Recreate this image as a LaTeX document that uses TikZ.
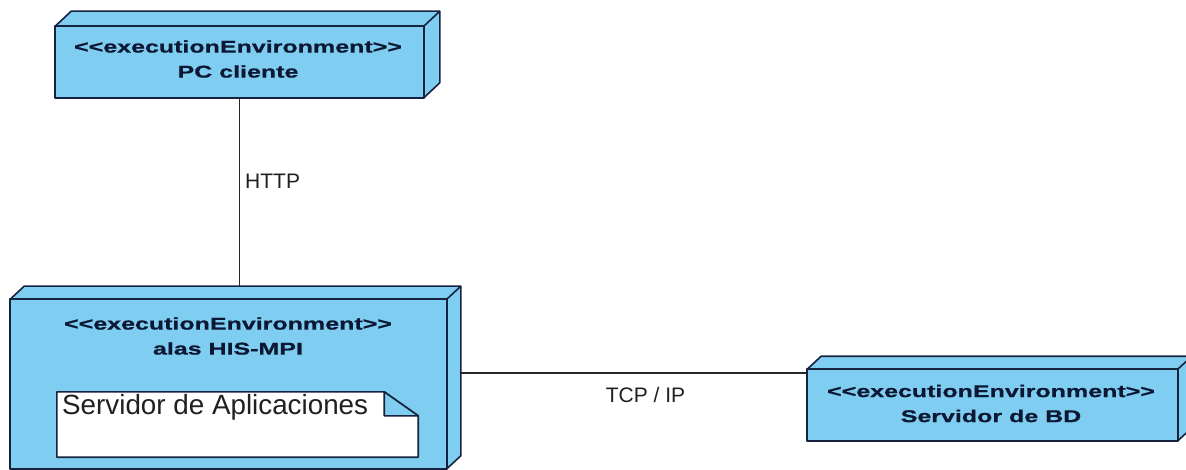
\documentclass[tikz,border=0pt]{standalone}
\usepackage{fontspec}
\setmainfont{Liberation Sans}
\newfontfamily\stereofont[FakeStretch=1.47,FakeBold=0.8]{Liberation Sans Bold}
\usetikzlibrary{calc}
\definecolor{nodefill}{HTML}{7FCDF0}
\definecolor{nodeedge}{HTML}{16223E}
\definecolor{nodetext}{HTML}{0C1833}
\definecolor{labeltext}{HTML}{202020}
\tikzset{
  face/.style={fill=nodefill, draw=nodeedge, line width=1.6pt, line join=round},
  frontface/.style={face, rectangle, inner sep=0pt},
  stereo/.style={font=\stereofont\fontsize{17}{25}\selectfont, text=nodetext, align=center, inner sep=0pt},
  conn/.style={draw=black!85, line width=1.4pt},
  connlabel/.style={font=\fontsize{21}{24}\selectfont, text=labeltext, inner sep=0pt},
  notetext/.style={font=\fontsize{27.8}{31}\selectfont, text=labeltext, inner sep=0pt},
}
% top and side faces of a deployment node, drawn behind its front face
\newcommand\depthfaces[3]{%
  \filldraw[face] (#1.north west) -- ++(#2,#3) -- ($(#1.north east)+(#2,#3)$)
    -- ($(#1.south east)+(#2,#3)$) -- (#1.south east) -- (#1.north east) -- cycle;
  \draw[face, fill=none] (#1.north east) -- ++(#2,#3);
}
\begin{document}
\begin{tikzpicture}[x=1pt,y=-1pt]
\useasboundingbox (0,0) rectangle (1186,470);

% execution environments (front faces)
\node[frontface, minimum width=367pt, minimum height=70pt] (pc) at (239.5,62) {};
\node[frontface, minimum width=435pt, minimum height=168pt] (alas) at (228.5,384) {};
\node[frontface, minimum width=369pt, minimum height=70pt] (bd) at (992.5,405) {};

\depthfaces{pc}{16}{-15}
\depthfaces{alas}{14}{-13}
\depthfaces{bd}{14}{-13}
\draw[face] (pc.north west) rectangle (pc.south east);
\draw[face] (alas.north west) rectangle (alas.south east);
\draw[face] (bd.north west) rectangle (bd.south east);

% names
\node[stereo] (pcname) at (238,59) {<<executionEnvironment>>\\PC cliente};
\node[stereo] (alasname) at (228,336) {<<executionEnvironment>>\\alas HIS-MPI};
\node[stereo] (bdname) at (991,403.5) {<<executionEnvironment>>\\Servidor de BD};

% deployed component (note with folded corner)
\node[rectangle, inner sep=0pt, minimum width=361pt, minimum height=65pt] (srv) at (237.5,424.5) {};
\coordinate (fold) at ($(srv.north east)+(-34,0)$);
\coordinate (foldcorner) at ($(srv.north east)+(0,24)$);
\filldraw[fill=white, draw=nodeedge, line width=1.6pt, line join=round]
  (srv.north west) -- (fold) -- (foldcorner) -- (srv.south east) -- (srv.south west) -- cycle;
\filldraw[fill=nodefill, draw=nodeedge, line width=1.6pt, line join=round]
  (fold) -- (fold |- foldcorner) -- (foldcorner) -- cycle;
\node[notetext, anchor=west] (srvtext) at (62,407.5) {Servidor de Aplicaciones};

% communication paths
\draw[conn] (pc.south) -- (pc.south |- 0,287);
\node[connlabel, anchor=west] (http) at (245,181) {HTTP};

\coordinate (alasside) at ($(alas.east)+(14,-11)$);
\draw[conn] (alasside) -- (alasside -| bd.west);
\node[connlabel] (tcp) at (645.5,395) {TCP / IP};
\end{tikzpicture}
\end{document}
